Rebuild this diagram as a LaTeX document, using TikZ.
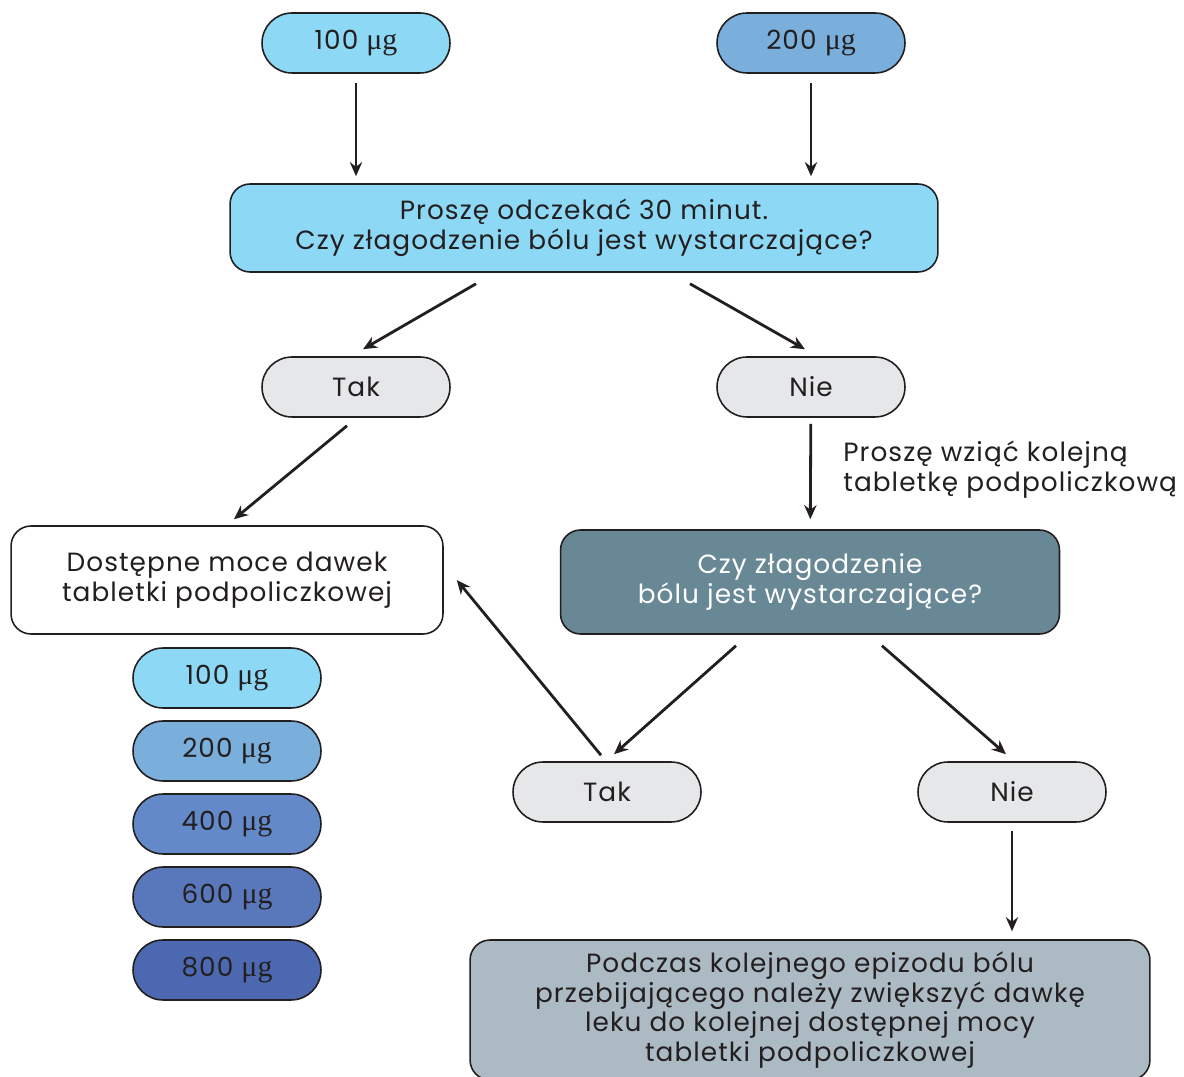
\documentclass[tikz,border=0pt]{standalone}
\usepackage{fontspec}
\setmainfont{Poppins}[LetterSpace=4]
\newfontfamily\mufont{Liberation Serif}
\usetikzlibrary{arrows.meta}
\definecolor{inkcol}{HTML}{231F20}
\definecolor{dose100}{HTML}{8DD8F5}
\definecolor{dose200}{HTML}{7AAFDC}
\definecolor{dose400}{HTML}{6389C8}
\definecolor{dose600}{HTML}{5878BB}
\definecolor{dose800}{HTML}{4B68B0}
\definecolor{answer}{HTML}{E6E7E9}
\definecolor{question}{HTML}{688896}
\definecolor{advice}{HTML}{ACBAC4}
\newcommand{\mcg}{{\mufont\fontsize{17}{17}\selectfont μg}}
\tikzset{
  every node/.style={text=inkcol, font=\fontsize{15}{17}\selectfont},
  pill/.style={draw=inkcol, line width=0.9pt, rounded corners=0.6cm,
    minimum width=3.76cm, minimum height=1.2cm, inner sep=0pt},
  bigbox/.style={draw=inkcol, line width=0.9pt, rounded corners=0.4cm,
    align=center, inner sep=0pt},
  flow/.style={draw=inkcol, line width=1.6pt, -{Stealth[length=8pt,width=7pt]}}
}
\begin{document}
\begin{tikzpicture}[x=0.02cm, y=-0.02cm]
      \clip (0,0) rectangle (1184,1077);
      \draw
        (356,43) node[pill, fill=dose100] (top100){100 \mcg}
        (811,43) node[pill, fill=dose200] (top200){200 \mcg}
        (584,228) node[bigbox, fill=dose100, minimum width=14.16cm, minimum height=1.76cm] (wait){Proszę odczekać 30 minut.\\Czy złagodzenie bólu jest wystarczające?}
        (356,387) node[pill, fill=answer] (yes1){Tak}
        (811,387) node[pill, fill=answer] (no1){Nie}
        (227,580) node[bigbox, fill=white, minimum width=8.64cm, minimum height=2.16cm] (doses){Dostępne moce dawek\\tabletki podpoliczkowej}
        (810,582) node[bigbox, fill=question, text=white, minimum width=9.98cm, minimum height=2.08cm] (again){Czy złagodzenie\\bólu jest wystarczające?}
        (607,792) node[pill, fill=answer] (yes2){Tak}
        (1012,792) node[pill, fill=answer] (no2){Nie}
        (810,1010) node[bigbox, fill=advice, minimum width=13.6cm, minimum height=2.8cm] (next){Podczas kolejnego epizodu bólu\\przebijającego należy zwiększyć dawkę\\leku do kolejnej dostępnej mocy\\tabletki podpoliczkowej}
        (843,470) node[anchor=west, align=left, inner sep=0pt] (take){Proszę wziąć kolejną\\tabletkę podpoliczkową};
      % dose strengths
      \draw
        (227,678) node[pill, fill=dose100] (d100){100 \mcg}
        (227,751) node[pill, fill=dose200] (d200){200 \mcg}
        (227,824) node[pill, fill=dose400] (d400){400 \mcg}
        (227,897) node[pill, fill=dose600] (d600){600 \mcg}
        (227,970) node[pill, fill=dose800] (d800){800 \mcg};
      \begin{scope}[flow]
        \draw[shorten <=0.18cm, shorten >=0.14cm] (top100) to (wait.north -| top100);
        \draw[shorten <=0.18cm, shorten >=0.14cm] (top200) to (wait.north -| top200);
        \draw ([xshift=-2.16cm, yshift=-0.22cm]wait.south) to ([xshift=0.14cm, yshift=0.14cm]yes1.north);
        \draw ([xshift=2.12cm, yshift=-0.22cm]wait.south) to ([xshift=-0.12cm, yshift=0.14cm]no1.north);
        \draw ([xshift=-0.18cm, yshift=-0.16cm]yes1.south) to ([xshift=0.14cm, yshift=0.12cm]doses.north);
        \draw[shorten <=0.12cm, shorten >=0.2cm] (no1) to (again);
        \draw ([xshift=-1.48cm, yshift=-0.22cm]again.south) to ([xshift=0.14cm, yshift=0.14cm]yes2.north);
        \draw ([xshift=1.44cm, yshift=-0.22cm]again.south) to ([xshift=-0.12cm, yshift=0.14cm]no2.north);
        \draw ([xshift=-0.12cm, yshift=0.12cm]yes2.north) to ([xshift=0.26cm]doses.east);
        \draw[shorten <=0.16cm, shorten >=0.16cm] (no2) to (next.north -| no2);
      \end{scope}
    \end{tikzpicture}
\end{document}
